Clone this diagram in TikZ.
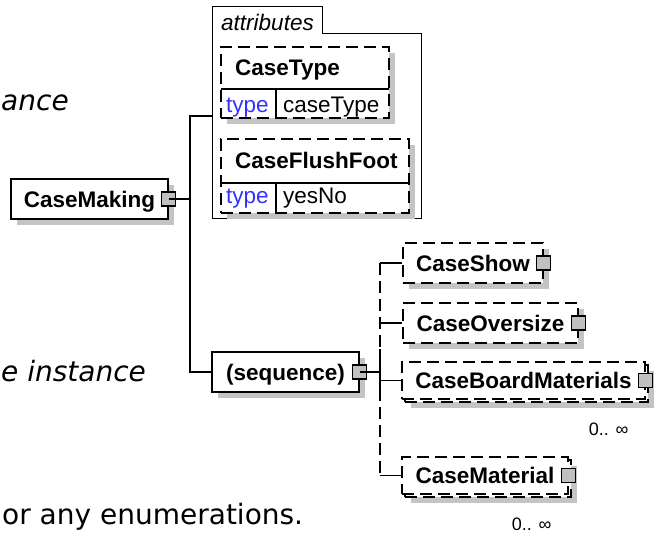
\documentclass[tikz,border=0pt]{standalone}
\usepackage{fontspec}
\setmainfont{Liberation Sans}
\newfontfamily\docfont{DejaVu Sans}
\usetikzlibrary{positioning,calc,shadows}
\definecolor{shadowgray}{RGB}{196,196,196}
\definecolor{expgray}{RGB}{192,192,192}
\definecolor{typeblue}{RGB}{51,51,255}
\newcommand\elemfont{\fontsize{22.5}{26}\selectfont\bfseries}
\newcommand\plainfont{\fontsize{22.5}{26}\selectfont}

\begin{document}
\begin{tikzpicture}[x=1pt, y=-1pt,
    elembox/.style={draw, line width=1.3pt, fill=white, inner sep=0pt, minimum height=40pt, font=\elemfont, text height=16.1pt, text depth=0pt},
    boxshadow/.style={drop shadow={shadow xshift=6pt, shadow yshift=-6pt, opacity=1, fill=shadowgray}},
    optional/.style={dash pattern=on 12pt off 6pt},
    expander/.style={draw, line width=1.3pt, fill=expgray, minimum size=14pt, inner sep=0pt},
    link/.style={line width=1.3pt},
    attrname/.style={font=\elemfont, inner sep=0pt},
    attrtext/.style={font=\plainfont, inner sep=0pt},
    card/.style={font=\fontsize{18}{20}\selectfont, inner sep=0pt},
    doctext/.style={font=\docfont\fontsize{28}{33}\selectfont, inner sep=0pt},
]
\useasboundingbox (0,0) rectangle (656,533);
\fill[white] (0,0) rectangle (656,533);

% text of the surrounding page
\node[doctext, anchor=base west] (txtone) at (1,110) {\itshape ance};
\node[doctext, anchor=base west] (txttwo) at (1,381) {\itshape e instance};
\node[doctext, anchor=base west] (txtthree) at (2,524) {or any enumerations.};

% root element
\node[elembox, boxshadow, minimum width=157pt] (casemaking) at (89.5,199) {CaseMaking};
\node[expander] (cmexp) at (casemaking.east) {};

% attributes panel
\node[inner sep=0pt, minimum width=208pt, minimum height=184pt] (attrpanel) at (317,126) {};
\node[inner sep=0pt, minimum width=109pt, minimum height=27pt, anchor=south west, font=\plainfont\itshape, text height=21pt, text depth=0pt] (attrtab) at (attrpanel.north west) {attributes};
\draw[link] (attrtab.south west) |- (attrtab.north east) |- (attrpanel.north east) |- (attrpanel.south west) -- cycle;

\node[elembox, boxshadow, optional, minimum width=168pt, minimum height=71pt] (ctbox) at (305,82.5) {};
\draw[link] (221,89) -- (389,89);
\draw[link] (276,89) -- (276,118);
\node[attrname, anchor=base west] (ctname) at (235,75) {CaseType};
\node[attrtext, anchor=base west, text=typeblue] (cttype) at (226,112) {type};
\node[attrtext, anchor=base west] (ctvalue) at (283,112) {caseType};

\node[elembox, boxshadow, optional, minimum width=188pt, minimum height=74pt] (cfbox) at (315,176) {};
\draw[link] (221,183) -- (409,183);
\draw[link] (276,183) -- (276,213);
\node[attrname, anchor=base west] (cfname) at (235,168) {CaseFlushFoot};
\node[attrtext, anchor=base west, text=typeblue] (cftype) at (226,203) {type};
\node[attrtext, anchor=base west] (cfvalue) at (283,203) {yesNo};

% sequence and its children
\node[elembox, boxshadow, minimum width=147pt] (seq) at (285.5,372) {(sequence)};
\node[expander] (seqexp) at (seq.east) {};

\node[elembox, boxshadow, optional, minimum width=140pt] (show) at (473,263) {CaseShow};
\node[expander] (showexp) at (show.east) {};

\node[elembox, boxshadow, optional, minimum width=175pt] (over) at (490.5,323) {CaseOversize};
\node[expander] (overexp) at (over.east) {};

\node[elembox, boxshadow, optional, minimum width=243pt, minimum height=37pt] (boardback) at (526.5,383.5) {};
\node[elembox, optional, minimum width=243pt, minimum height=37pt] (board) at ([shift={(-3,-3)}]boardback.center) {CaseBoardMaterials};
\node[expander] (boardexp) at (board.east) {};
\node[card, anchor=base east] (boardcard) at ([xshift=-20pt,yshift=-33pt]boardback.south east) {0.. ∞};

\node[elembox, boxshadow, optional, minimum width=166pt, minimum height=37pt] (matback) at (488,478.5) {};
\node[elembox, optional, minimum width=166pt, minimum height=37pt] (mat) at ([shift={(-3,-3)}]matback.center) {CaseMaterial};
\node[expander] (matexp) at (mat.east) {};
\node[card, anchor=base east] (matcard) at ([xshift=-20pt,yshift=-33pt]matback.south east) {0.. ∞};

% connectors
\coordinate (trunk) at (190,199);
\coordinate (attrin) at (213,116);
\coordinate (seqj) at (380,372);
\draw[link] (cmexp.center) -- (trunk);
\draw[link] (trunk) |- (attrin);
\draw[link] (trunk) |- (seq.west);
\draw[link] (seqexp.center) -- (seqj);
\draw[link, optional] (show.west -| seqj) -- (mat.west -| seqj);
\draw[link] ([yshift=23pt]seqj) -- ([yshift=-22pt]seqj);
\foreach \child in {show,over,board,mat}
    \draw[link] (\child.west -| seqj) -- (\child.west);
\end{tikzpicture}
\end{document}
